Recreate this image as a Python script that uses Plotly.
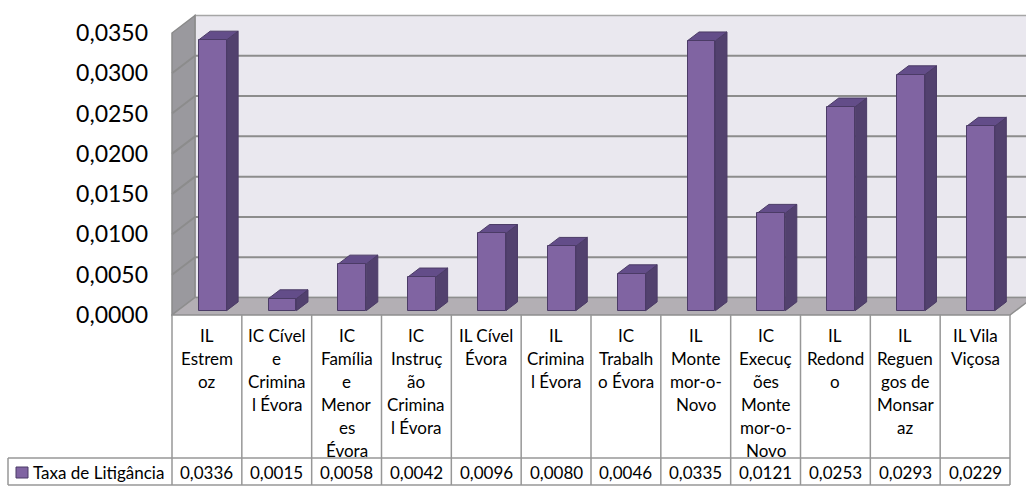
import plotly.graph_objects as go

# --- data -------------------------------------------------------------
categories = [
    "IL Estremoz", "IC Cível e Criminal Évora", "IC Família e Menores Évora",
    "IC Instrução Criminal Évora", "IL Cível Évora", "IL Criminal Évora",
    "IC Trabalho Évora", "IL Montemor-o-Novo", "IC Execuções Montemor-o-Novo",
    "IL Redondo", "IL Reguengos de Monsaraz", "IL Vila Viçosa",
]
header_labels = [
    "IL<br>Estrem<br>oz", "IC Cível<br>e<br>Crimina<br>l Évora",
    "IC<br>Família<br>e<br>Menor<br>es<br>Évora",
    "IC<br>Instruç<br>ão<br>Crimina<br>l Évora", "IL Cível<br>Évora",
    "IL<br>Crimina<br>l Évora", "IC<br>Trabalh<br>o Évora",
    "IL<br>Monte<br>mor-o-<br>Novo",
    "IC<br>Execuç<br>ões<br>Monte<br>mor-o-<br>Novo",
    "IL<br>Redond<br>o", "IL<br>Reguen<br>gos de<br>Monsar<br>az", "IL Vila<br>Viçosa",
]
series_name = "Taxa de Litigância"
values = [0.0336, 0.0015, 0.0058, 0.0042, 0.0096, 0.0080,
          0.0046, 0.0335, 0.0121, 0.0253, 0.0293, 0.0229]
tick_values = [0.0, 0.005, 0.010, 0.015, 0.020, 0.025, 0.030, 0.035]

# --- geometry / style -------------------------------------------------
W, H = 1026, 486
X_LEFT_PX = 171                      # left edge of the x domain
PX_PER_CAT = 838 / 12                # width of one category column
PX_PER_VAL = 282 / 0.035             # vertical scale of the value axis
ZERO_PX = 315                        # pixel row of value 0 (front plane)

x0 = -0.5 - (172 - X_LEFT_PX) / PX_PER_CAT
x1 = x0 + (W - X_LEFT_PX) / PX_PER_CAT
y1 = ZERO_PX / PX_PER_VAL
y0 = -(H - ZERO_PX) / PX_PER_VAL

DX = 23 / PX_PER_CAT                 # depth of the 3D box (category units)
DY = 17.5 / PX_PER_VAL               # depth of the 3D box (value units)
BAR_W = 0.4
FRONT = 0.25                         # bar front plane, fraction of depth
BAR_D = 0.5                          # bar depth, fraction of depth
YMAX = 0.035

FRONT_COL = "#8064A2"
SIDE_COL = "#52416E"
TOP_COL = "#634D89"
EDGE_COL = "#4B3B66"
BACK_WALL = "#EAE8EF"
SIDE_WALL = "#9A999E"
FLOOR_COL = "#B3AFB4"
GRID_COL = "#8C8C8C"
TABLE_LINE = "#979797"
FONT = "Lato"
TABLE_FONT_SIZE = 17

n = len(categories)
idx = list(range(n))
sx = FRONT * DX
b0 = FRONT * DY


def py2paper(py):
    return 1 - py / H


def px2paper(px):
    return px / W


shapes = []


def poly(pts, fill, line_col=None, lw=1, layer="below"):
    path = "M " + " L ".join(f"{x},{y}" for x, y in pts) + " Z"
    shapes.append(dict(type="path", path=path, xref="x", yref="y",
                       fillcolor=fill, layer=layer,
                       line=dict(color=line_col or fill, width=lw)))


# walls and floor
xl_w, xr_w = -0.5, n - 0.5
poly([(xl_w + DX, DY), (xr_w + DX, DY), (xr_w + DX, YMAX + DY), (xl_w + DX, YMAX + DY)],
     BACK_WALL, "#A6A6A6", 1.5)
poly([(xl_w, 0), (xl_w, YMAX), (xl_w + DX, YMAX + DY), (xl_w + DX, DY)],
     SIDE_WALL, "#8A8A8A", 1.5)
poly([(xl_w, 0), (xr_w, 0), (xr_w + DX, DY), (xl_w + DX, DY)],
     FLOOR_COL, "#8E8E8E", 1.5)

# gridlines on the back and side walls
for t in tick_values[1:-1]:
    shapes.append(dict(type="line", xref="x", yref="y", layer="below",
                       x0=xl_w + DX, x1=xr_w + DX, y0=t + DY, y1=t + DY,
                       line=dict(color=GRID_COL, width=2)))
    shapes.append(dict(type="line", xref="x", yref="y", layer="below",
                       x0=xl_w, x1=xl_w + DX, y0=t, y1=t + DY,
                       line=dict(color=GRID_COL, width=2)))

# side and top faces of each column
ddx, ddy = BAR_D * DX, BAR_D * DY
for i, v in zip(idx, values):
    xl = i - BAR_W / 2 + sx
    xr = xl + BAR_W
    top = b0 + v
    poly([(xr, b0), (xr, top), (xr + ddx, top + ddy), (xr + ddx, b0 + ddy)],
         SIDE_COL, EDGE_COL, 1)
    poly([(xl, top), (xr, top), (xr + ddx, top + ddy), (xl + ddx, top + ddy)],
         TOP_COL, EDGE_COL, 1)

fig = go.Figure()
fig.add_trace(go.Bar(
    x=idx, y=values, base=b0, width=BAR_W, offset=-BAR_W / 2 + sx,
    name=series_name, hovertext=categories,
    marker=dict(color=FRONT_COL, line=dict(color=EDGE_COL, width=1)),
))

# --- data table below the chart ----------------------------------------
ROW_TOP, ROW_MID, ROW_BOT = 315, 458, 485
LEG_LEFT = 8
for k in range(n + 1):
    shapes.append(dict(type="line", xref="x", yref="paper", layer="above",
                       x0=-0.5 + k, x1=-0.5 + k,
                       y0=py2paper(ROW_TOP), y1=py2paper(ROW_BOT),
                       line=dict(color=TABLE_LINE, width=1.5)))
for row in (ROW_MID, ROW_BOT):
    shapes.append(dict(type="line", xref="paper", yref="paper", layer="above",
                       x0=px2paper(LEG_LEFT), x1=px2paper(172 + n * PX_PER_CAT),
                       y0=py2paper(row), y1=py2paper(row),
                       line=dict(color=TABLE_LINE, width=1.5)))
shapes.append(dict(type="line", xref="paper", yref="paper", layer="above",
                   x0=px2paper(LEG_LEFT), x1=px2paper(LEG_LEFT),
                   y0=py2paper(ROW_MID), y1=py2paper(ROW_BOT),
                   line=dict(color=TABLE_LINE, width=1.5)))
# legend key swatch
shapes.append(dict(type="rect", xref="paper", yref="paper", layer="above",
                   x0=px2paper(16), x1=px2paper(28),
                   y0=py2paper(478), y1=py2paper(467),
                   fillcolor=FRONT_COL, line=dict(color=EDGE_COL, width=1)))

annotations = []
LINE_STEP = 23
for i, lab in enumerate(header_labels):
    for j, part in enumerate(lab.split("<br>")):
        annotations.append(dict(
            x=i, xref="x", y=py2paper(335 + j * LINE_STEP), yref="paper",
            text=part, showarrow=False, xanchor="center", yanchor="middle",
            font=dict(family=FONT, size=TABLE_FONT_SIZE, color="#000000")))
for i, v in enumerate(values):
    annotations.append(dict(
        x=i, xref="x", y=py2paper(472), yref="paper",
        text=f"{v:.4f}".replace(".", ","), showarrow=False,
        xanchor="center", yanchor="middle",
        font=dict(family=FONT, size=TABLE_FONT_SIZE, color="#000000")))
annotations.append(dict(
    x=px2paper(31), xref="paper", y=py2paper(472), yref="paper",
    text=series_name, showarrow=False, xanchor="left", yanchor="middle",
    font=dict(family=FONT, size=TABLE_FONT_SIZE, color="#000000")))

fig.update_layout(
    width=W, height=H,
    margin=dict(l=0, r=0, t=0, b=0),
    paper_bgcolor="white", plot_bgcolor="white",
    showlegend=False, separators=", ",
    shapes=shapes, annotations=annotations,
    xaxis=dict(domain=[X_LEFT_PX / W, 1], range=[x0, x1],
               showgrid=False, zeroline=False, showticklabels=False,
               showline=False, fixedrange=True),
    yaxis=dict(domain=[0, 1], range=[y0, y1],
               tickvals=tick_values, tickformat=".4f",
               ticks="", ticklabelstandoff=22,
               tickfont=dict(family=FONT, size=23, color="#000000"),
               showgrid=False, zeroline=False, showline=False, fixedrange=True),
    bargap=0,
)

fig.write_html("out.html")
